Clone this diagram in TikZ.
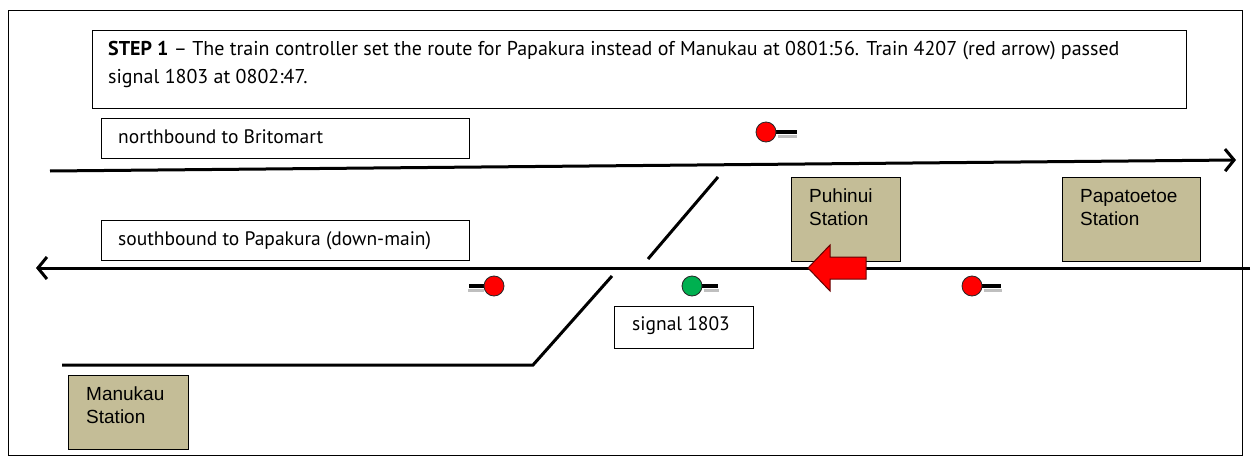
\documentclass[tikz,border=0pt]{standalone}
\usepackage{fontspec}
\setmainfont{Liberation Sans}
\newfontfamily\titlefont{PT Sans}
\usetikzlibrary{arrows.meta}
\definecolor{tanbox}{HTML}{C4BD97}
\definecolor{sigred}{HTML}{FF0000}
\definecolor{siggreen}{HTML}{00B050}
\begin{document}
\begin{tikzpicture}[x=1pt,y=-1pt,
  box/.style={draw=black, line width=0.8pt, fill=white, inner sep=0pt, anchor=north west},
  station/.style={draw=black, line width=0.8pt, fill=tanbox, inner sep=0pt, anchor=north west},
  track/.style={line width=3pt, line cap=butt},
  tip/.style={-{Straight Barb[length=9pt,width=22pt,line width=3pt]}},
  sig/.style={circle, draw=black!85, line width=0.8pt, minimum size=20pt, inner sep=0pt},
  sigdash/.style={line width=3.5pt, black},
  sigshadow/.style={line width=3pt, black!25},
  lbl/.style={font=\titlefont\fontsize{20}{27}\selectfont, anchor=base west, inner sep=0pt},
  sublbl/.style={font=\titlefont\fontsize{19.5}{27}\selectfont, anchor=base west, inner sep=0pt},
  stlbl/.style={font=\fontsize{19}{23}\selectfont, align=left, anchor=north west, inner sep=0pt}
]
\useasboundingbox (0,0) rectangle (1254,471);
% frame
\node[draw=black, line width=0.8pt, inner sep=0pt, anchor=north west, minimum width=1234pt, minimum height=445pt] (frame) at (8,10) {};

% title box
\node[box, minimum width=1094pt, minimum height=78pt] (titlebox) at (92,30) {};
\node[lbl] (title1) at (108,55) {\textbf{STEP 1} – The train controller set the route for Papakura instead of Manukau at 0801:56. Train 4207 (red arrow) passed};
\node[lbl] (title2) at (108,83) {signal 1803 at 0802:47.};

% direction labels
\node[box, minimum width=368pt, minimum height=40pt] (nbbox) at (101,118) {};
\node[sublbl] (nblbl) at (118,143) {northbound to Britomart};
\node[box, minimum width=368pt, minimum height=40pt] (sbbox) at (101,220) {};
\node[sublbl] (sblbl) at (118,245) {southbound to Papakura (down-main)};

% stations
\node[station, minimum width=109pt, minimum height=84pt] (puhinui) at (791,177) {};
\node[stlbl] (puhinuilbl) at (809,189) {Puhinui\\Station};
\node[station, minimum width=138pt, minimum height=84pt] (papatoetoe) at (1062,177) {};
\node[stlbl] (papatoetoelbl) at (1080,189) {Papatoetoe\\Station};
\node[station, minimum width=120pt, minimum height=74pt] (manukau) at (68,375) {};
\node[stlbl] (manukaulbl) at (86,387) {Manukau\\Station};

% tracks
\coordinate (nbW) at (50,171);
\coordinate (nbE) at (1236,160);
\draw[track, tip] (nbW) -- (nbE);
\coordinate (sbE) at (1250,268);
\coordinate (sbW) at (36,268);
\draw[track, tip] (sbE) -- (sbW);
\coordinate (xoA) at (648,259);
\coordinate (xoB) at (718,177);
\draw[track] (xoA) -- (xoB);
\coordinate (mkA) at (612,276);
\coordinate (mkB) at (533,365);
\coordinate (mkC) at (62,365);
\draw[track, line join=miter] (mkA) -- (mkB) -- (mkC);

% signal 1803 label
\node[box, minimum width=139pt, minimum height=42pt] (sigbox) at (614,306) {};
\node[sublbl] (siglbl) at (632,330) {signal 1803};

% signals
\coordinate (s1) at (766,132);
\draw[sigshadow] (778,136) -- (797,136);
\draw[sigdash] (776,132) -- (797,132);
\node[sig, fill=sigred] (sigA) at (s1) {};

\coordinate (s2) at (494,286);
\draw[sigshadow] (468,290) -- (484,290);
\draw[sigdash] (469,286) -- (484,286);
\node[sig, fill=sigred] (sigB) at (s2) {};

\coordinate (s3) at (692,286);
\draw[sigshadow] (704,290) -- (719,290);
\draw[sigdash] (702,286) -- (718,286);
\node[sig, fill=siggreen] (sigC) at (s3) {};

\coordinate (s4) at (972,286);
\draw[sigshadow] (984,290) -- (1002,290);
\draw[sigdash] (982,286) -- (1001,286);
\node[sig, fill=sigred] (sigD) at (s4) {};

% red train arrow
\draw[fill=sigred, draw=black!60!red, line width=1pt, line join=miter]
  (808,268) -- (830,245) -- (830,257) -- (866,257) -- (866,279) -- (830,279) -- (830,291) -- cycle;
\end{tikzpicture}
\end{document}
